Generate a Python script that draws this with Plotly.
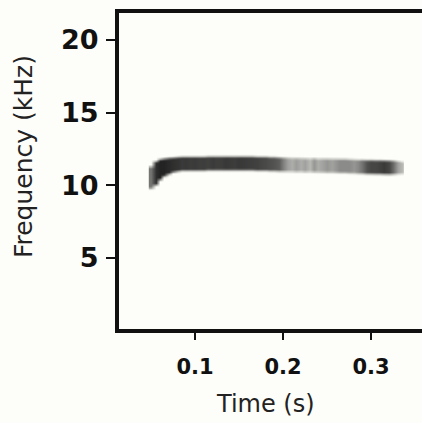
import plotly.graph_objects as go

# ---- data ----
time_s = [0.050, 0.055, 0.060, 0.065, 0.070, 0.075, 0.080, 0.085, 0.090, 0.095,
          0.100, 0.105, 0.110, 0.115, 0.120, 0.125, 0.130, 0.135, 0.140, 0.145,
          0.150, 0.155, 0.160, 0.165, 0.170, 0.175, 0.180, 0.185, 0.190, 0.195,
          0.200, 0.205, 0.210, 0.215, 0.220, 0.225, 0.230, 0.235, 0.240, 0.245,
          0.250, 0.255, 0.260, 0.265, 0.270, 0.275, 0.280, 0.285, 0.290, 0.295,
          0.300, 0.305, 0.310, 0.315, 0.320, 0.325, 0.330, 0.335]
center_khz = [10.55, 10.85, 11.10, 11.25, 11.35, 11.42, 11.47, 11.50, 11.50, 11.50,
              11.50, 11.50, 11.50, 11.52, 11.52, 11.52, 11.52, 11.52, 11.52, 11.52,
              11.52, 11.52, 11.52, 11.52, 11.50, 11.50, 11.50, 11.48, 11.48, 11.46,
              11.45, 11.44, 11.43, 11.42, 11.42, 11.40, 11.40, 11.40, 11.38, 11.38,
              11.37, 11.37, 11.36, 11.35, 11.35, 11.33, 11.32, 11.30, 11.30, 11.28,
              11.28, 11.27, 11.27, 11.26, 11.25, 11.25, 11.24, 11.22]
halfwidth_khz = [0.75, 0.80, 0.70, 0.60, 0.55, 0.50, 0.48, 0.47, 0.47, 0.47,
                 0.47, 0.47, 0.47, 0.47, 0.47, 0.47, 0.47, 0.47, 0.47, 0.47,
                 0.47, 0.47, 0.47, 0.47, 0.47, 0.47, 0.47, 0.47, 0.47, 0.47,
                 0.47, 0.47, 0.47, 0.47, 0.47, 0.47, 0.47, 0.47, 0.47, 0.47,
                 0.47, 0.47, 0.47, 0.47, 0.47, 0.47, 0.47, 0.47, 0.47, 0.47,
                 0.47, 0.47, 0.47, 0.47, 0.47, 0.46, 0.43, 0.40]
intensity = [0.60, 0.90, 0.95, 0.95, 0.92, 0.90, 0.88, 0.85, 0.86, 0.84,
             0.85, 0.83, 0.84, 0.82, 0.85, 0.83, 0.84, 0.86, 0.85, 0.84,
             0.86, 0.85, 0.84, 0.83, 0.82, 0.80, 0.78, 0.76, 0.74, 0.70,
             0.55, 0.40, 0.35, 0.42, 0.35, 0.40, 0.30, 0.45, 0.35, 0.40,
             0.45, 0.40, 0.45, 0.50, 0.50, 0.50, 0.45, 0.50, 0.60, 0.75,
             0.80, 0.80, 0.82, 0.85, 0.80, 0.65, 0.40, 0.30]

y_ticks = [5, 10, 15, 20]
x_ticks = [0.1, 0.2, 0.3]
x_tick_labels = ["0.1", "0.2", "0.3"]

# frequency grid for the heatmap image
freq_grid = [9.0 + 0.05 * i for i in range(81)]


def band_value(f, c, hw, a):
    d = abs(f - c)
    edge = 0.12
    if d <= hw - edge:
        return a
    if d >= hw + edge:
        return 0.0
    return a * (hw + edge - d) / (2 * edge)


z = [[band_value(f, c, hw, a) for c, hw, a in zip(center_khz, halfwidth_khz, intensity)]
     for f in freq_grid]

BG = "#fdfdf9"

fig = go.Figure()
fig.add_trace(go.Heatmap(
    x=time_s, y=freq_grid, z=z,
    zmin=0, zmax=1, zsmooth="best",
    colorscale=[[0, BG], [1, "#181818"]],
    showscale=False, hoverinfo="skip",
))

fig.update_layout(
    width=422, height=423,
    margin=dict(l=119, r=0, t=13, b=94),
    paper_bgcolor=BG, plot_bgcolor=BG,
    showlegend=False,
    font=dict(family="DejaVu Sans", color="#111111"),
)

fig.update_xaxes(
    range=[0.01364, 0.358],
    tickvals=x_ticks, ticktext=x_tick_labels,
    ticks="outside", ticklen=7, tickwidth=2, tickcolor="#111111",
    showline=True, linewidth=4, linecolor="#111111", mirror=True,
    showgrid=False, zeroline=False,
    tickfont=dict(family="DejaVu Sans", size=21, weight="bold", color="#111111"),
    ticklabelstandoff=9,
)
fig.update_yaxes(
    range=[0.11, 21.86],
    tickvals=y_ticks,
    ticks="outside", ticklen=9, tickwidth=2, tickcolor="#111111",
    showline=True, linewidth=4, linecolor="#111111", mirror=False,
    showgrid=False, zeroline=False,
    tickfont=dict(family="DejaVu Sans", size=27, weight="bold", color="#111111"),
    ticklabelstandoff=2,
)

fig.add_annotation(
    text="Frequency (kHz)", textangle=-90,
    xref="paper", yref="paper", x=-0.317, y=0.547,
    xanchor="center", yanchor="middle", showarrow=False,
    font=dict(family="DejaVu Sans", size=25, color="#222222"),
)
fig.add_annotation(
    text="Time (s)",
    xref="paper", yref="paper", x=0.482, y=-0.237,
    xanchor="center", yanchor="middle", showarrow=False,
    font=dict(family="DejaVu Sans", size=24, color="#222222"),
)

fig.write_html("out.html")
